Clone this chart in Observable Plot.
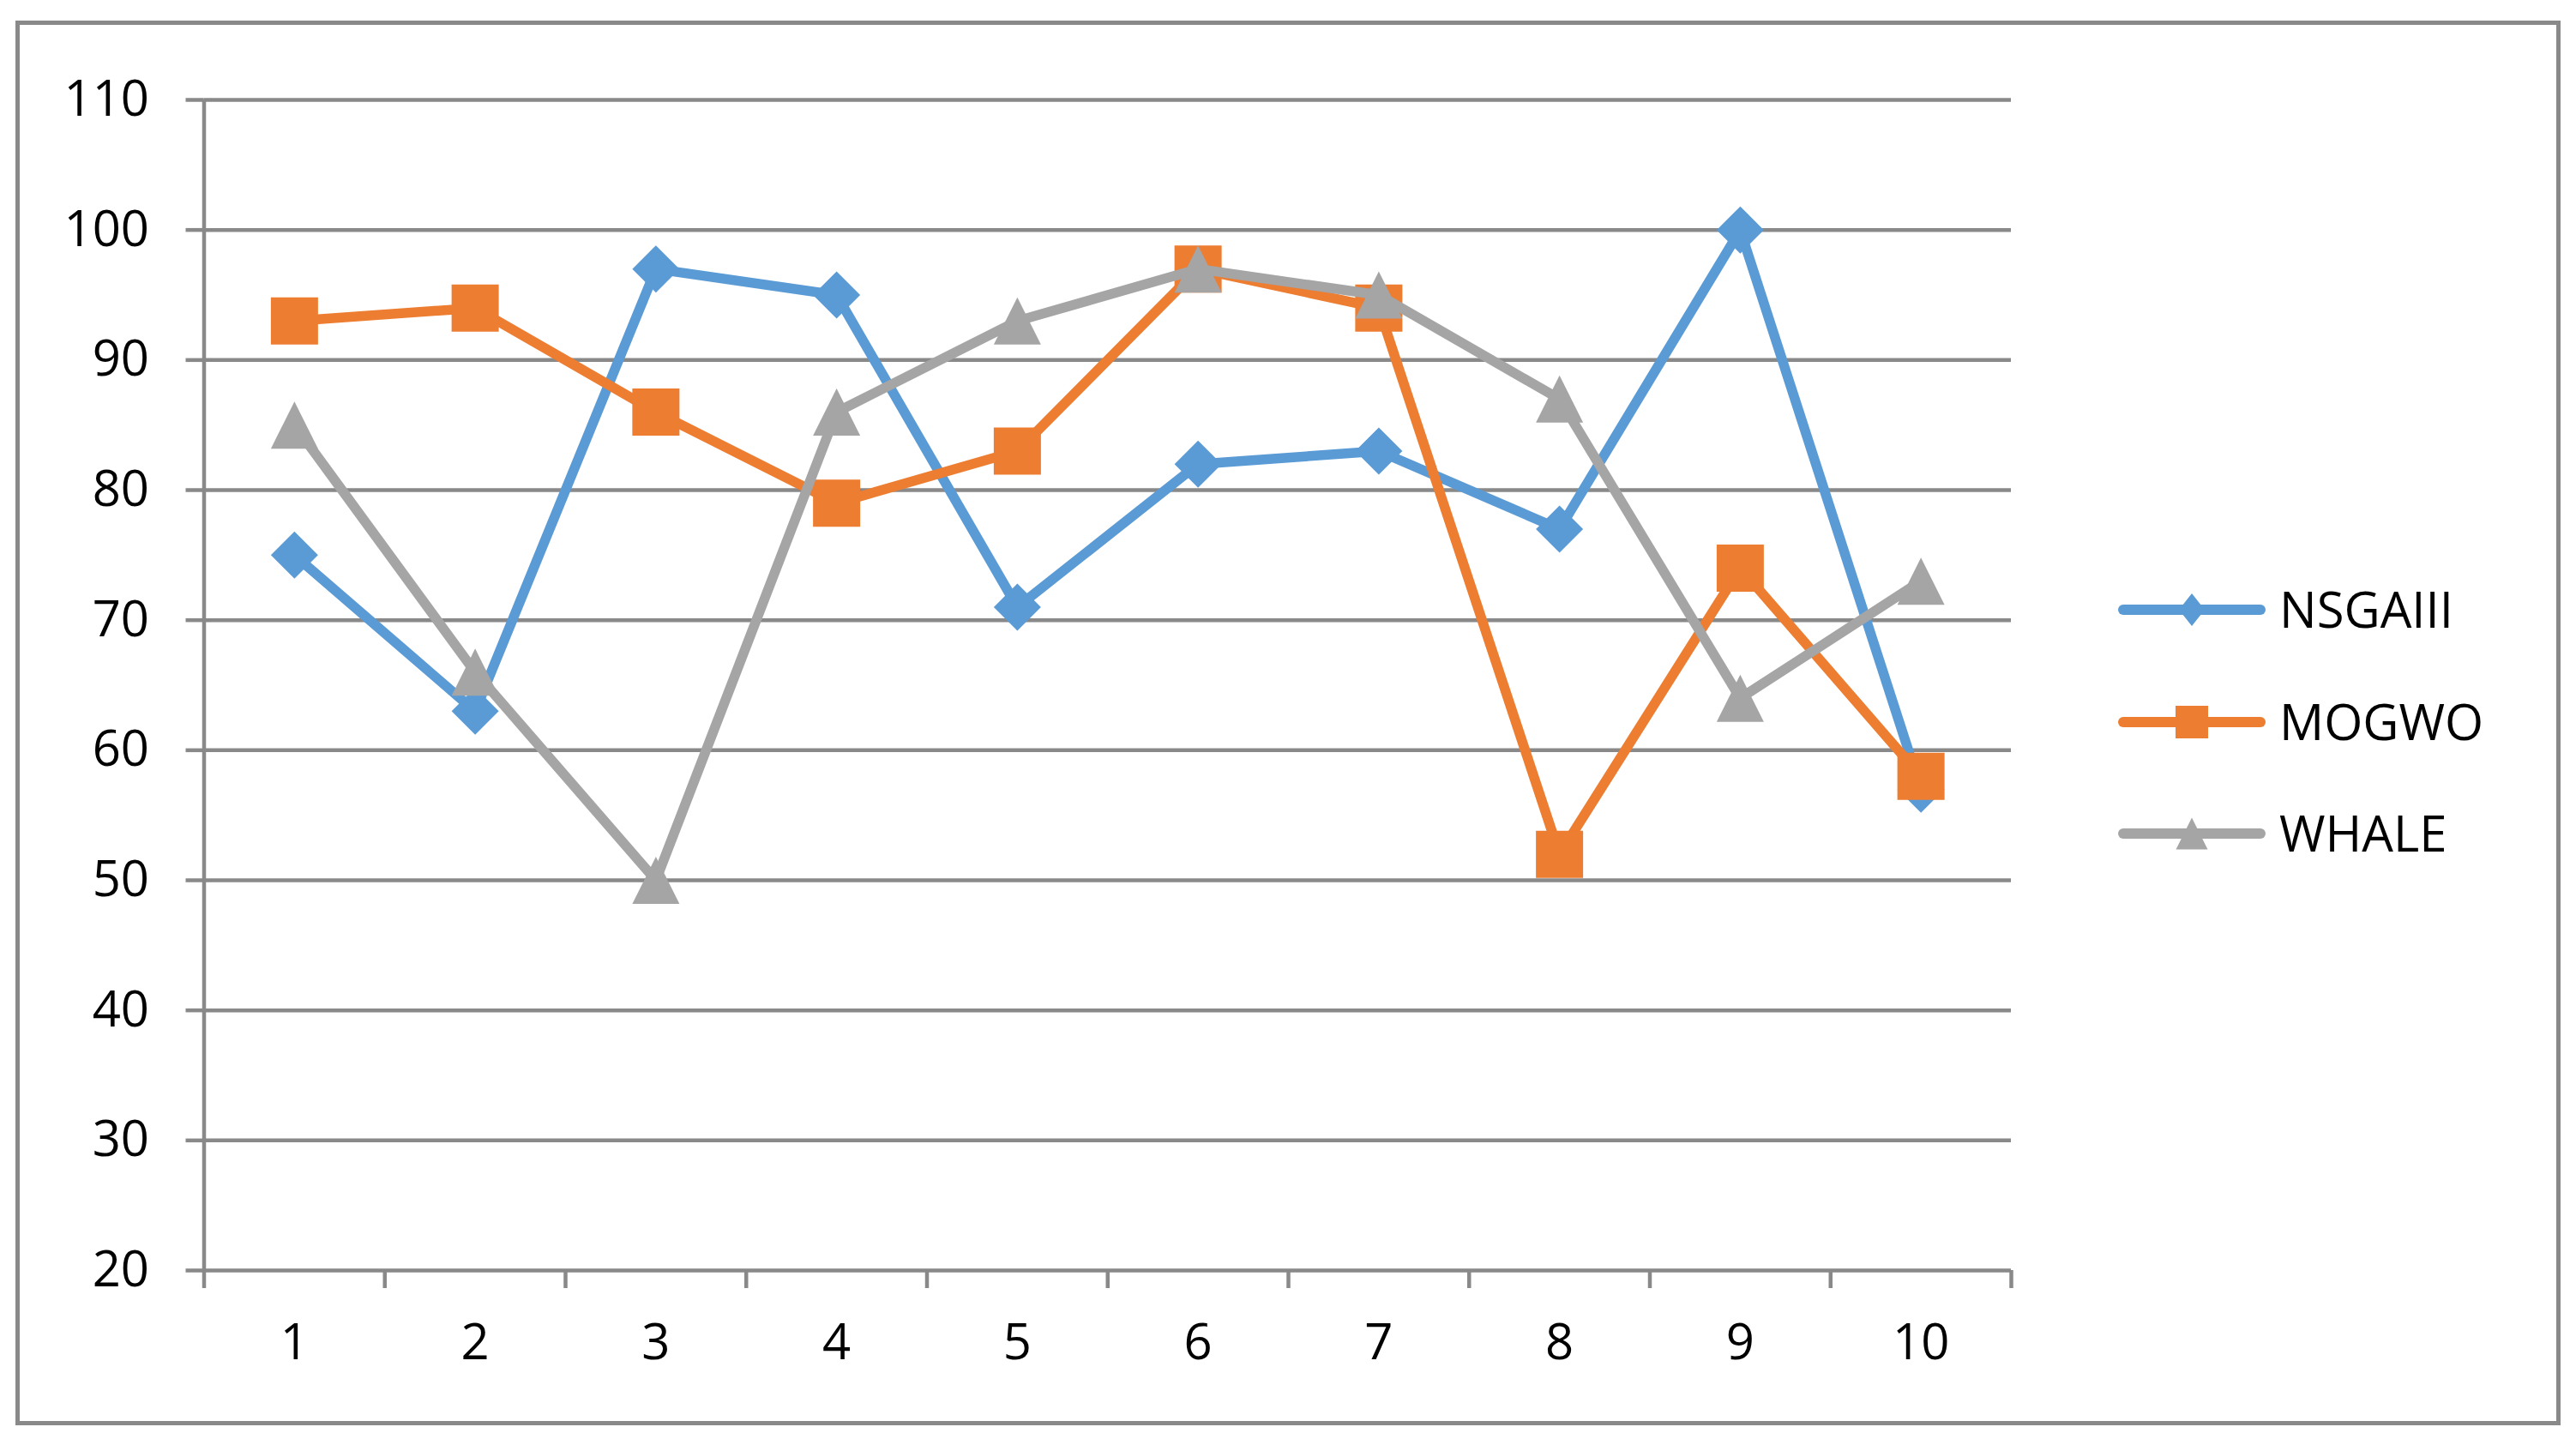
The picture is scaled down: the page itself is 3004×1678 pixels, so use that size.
<!DOCTYPE html>
<html>
<head>
<meta charset="utf-8">
<script src="https://cdn.jsdelivr.net/npm/d3@7"></script>
<script src="https://cdn.jsdelivr.net/npm/@observablehq/plot@0.6"></script>
<style>
  html, body { margin: 0; padding: 0; background: #fff; }
  #wrap { position: relative; width: 3004px; height: 1678px; font-family: "Open Sans", sans-serif; }
  #frame { position: absolute; left: 18px; top: 24px; width: 2968px; height: 1638px; box-sizing: border-box; border: 5px solid #898989; }
  #chart { position: absolute; left: 0; top: 0; }
  #legend { position: absolute; left: 0; top: 0; }
</style>
</head>
<body>
<div id="wrap">
  <div id="frame"></div>
  <div id="chart"></div>
  <svg id="legend" width="3004" height="1678"></svg>
</div>
<script>
// ---- data ----
const categories = [1, 2, 3, 4, 5, 6, 7, 8, 9, 10];
const seriesNames = ["NSGAIII", "MOGWO", "WHALE"];
const nsgaiii = [75, 63, 97, 95, 71, 82, 83, 77, 100, 57];
const mogwo   = [93, 94, 86, 79, 83, 97, 94, 52, 74, 58];
const whale   = [85, 66, 50, 86, 93, 97, 95, 87, 64, 73];
const yTicks = [20, 30, 40, 50, 60, 70, 80, 90, 100, 110];
const xBounds = [0.5, 1.5, 2.5, 3.5, 4.5, 5.5, 6.5, 7.5, 8.5, 9.5, 10.5];

const colors = {NSGAIII: "#5B9BD5", MOGWO: "#ED7D31", WHALE: "#A5A5A5"};
const gridColor = "#898989";

// custom marker shapes (bounding box centred on the point)
const sq = {draw(ctx, size) { const h = Math.sqrt(size) / 2; ctx.moveTo(-h, -h); ctx.lineTo(h, -h); ctx.lineTo(h, h); ctx.lineTo(-h, h); ctx.closePath(); }};
const dia = {draw(ctx, size) { const h = Math.sqrt(size) / 2; ctx.moveTo(0, -h); ctx.lineTo(h, 0); ctx.lineTo(0, h); ctx.lineTo(-h, 0); ctx.closePath(); }};
const tri = {draw(ctx, size) { const h = Math.sqrt(size) / 2; ctx.moveTo(0, -h); ctx.lineTo(h, h); ctx.lineTo(-h, h); ctx.closePath(); }};
const symbols = {NSGAIII: dia, MOGWO: sq, WHALE: tri};

const valuesBySeries = {NSGAIII: nsgaiii, MOGWO: mogwo, WHALE: whale};
const rows = [];
for (const s of seriesNames) {
  categories.forEach((c, i) => rows.push({series: s, x: c, y: valuesBySeries[s][i]}));
}

const markerSide = 55;
const rMarker = markerSide / Math.sqrt(Math.PI);

const marks = [
  Plot.ruleY(yTicks, {stroke: gridColor, strokeWidth: 4.5}),
  Plot.ruleX([0.5], {y1: 20, y2: 110, stroke: gridColor, strokeWidth: 4.5}),
  Plot.axisY(yTicks, {tickSize: 21, tickPadding: 43, stroke: gridColor, strokeWidth: 4.5, fill: "black", tickFormat: d => String(d), label: null}),
  Plot.axisX(xBounds, {tickSize: 21, stroke: gridColor, strokeWidth: 4.5, fill: "none", label: null}),
  Plot.axisX(categories, {tickSize: 0, tickPadding: 62, stroke: "none", fill: "black", tickFormat: d => String(d), label: null})
];
for (const s of seriesNames) {
  const data = rows.filter(r => r.series === s);
  marks.push(Plot.line(data, {x: "x", y: "y", stroke: colors[s], strokeWidth: 11.5, strokeLinejoin: "round", strokeLinecap: "round"}));
  marks.push(Plot.dot(data, {x: "x", y: "y", r: rMarker, symbol: () => symbols[s], fill: colors[s], stroke: "none"}));
}

const chart = Plot.plot({
  width: 3004,
  height: 1678,
  marginLeft: 237.5,
  marginRight: 659,
  marginTop: 116,
  marginBottom: 197,
  style: {fontFamily: "Open Sans, sans-serif", fontSize: "58px", color: "black", background: "transparent", overflow: "visible"},
  x: {type: "linear", domain: [0.5, 10.5], label: null},
  y: {type: "linear", domain: [20, 110], label: null},
  symbol: {type: "identity"},
  marks
});
document.getElementById("chart").appendChild(chart);

// ---- legend ----
const leg = d3.select("#legend");
const legY = {NSGAIII: 711, MOGWO: 842, WHALE: 972};
const legMarker = {NSGAIII: [30, 38], MOGWO: [38, 38], WHALE: [37, 37]};
for (const s of seriesNames) {
  const y = legY[s];
  leg.append("line").attr("x1", 2476).attr("x2", 2636).attr("y1", y).attr("y2", y)
    .attr("stroke", colors[s]).attr("stroke-width", 12).attr("stroke-linecap", "round");
  const [w, h] = legMarker[s];
  const cx = 2556;
  let p;
  if (s === "NSGAIII") p = `M${cx},${y - h/2}L${cx + w/2},${y}L${cx},${y + h/2}L${cx - w/2},${y}Z`;
  else if (s === "MOGWO") p = `M${cx - w/2},${y - h/2}h${w}v${h}h${-w}Z`;
  else p = `M${cx},${y - h/2}L${cx + w/2},${y + h/2}L${cx - w/2},${y + h/2}Z`;
  leg.append("path").attr("d", p).attr("fill", colors[s]);
  leg.append("text").attr("x", 2658).attr("y", y + 21).attr("font-family", "Open Sans, sans-serif")
    .attr("font-size", 58).attr("fill", "black").text(s);
}
</script>
</body>
</html>
